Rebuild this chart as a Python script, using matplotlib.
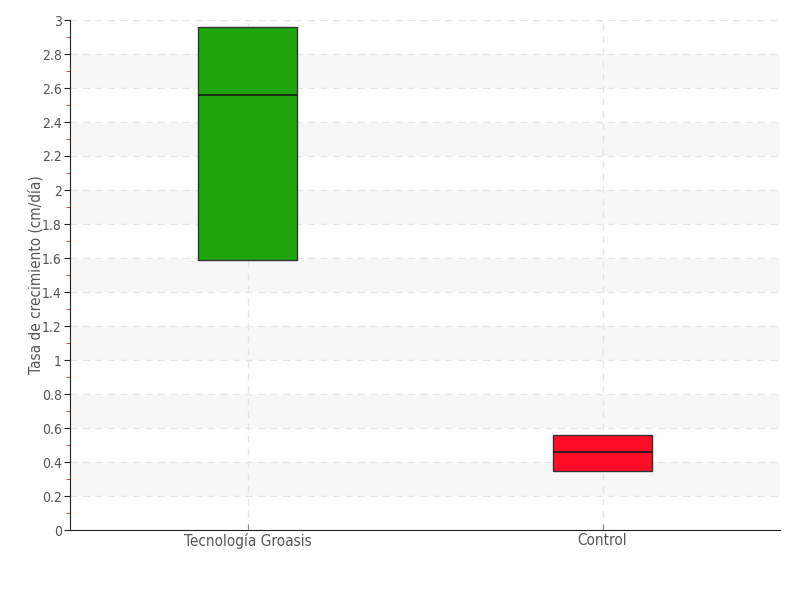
import numpy as np
import matplotlib.pyplot as plt

# data
categories = ["Tecnología Groasis", "Control"]
q1 = [1.59, 0.35]
median = [2.56, 0.46]
q3 = [2.96, 0.56]
colors = ["#21a50f", "#ff0d27"]
yticks = [0, 0.2, 0.4, 0.6, 0.8, 1, 1.2, 1.4, 1.6, 1.8, 2, 2.2, 2.4, 2.6, 2.8, 3]

plt.rcParams['font.family'] = ['DejaVu Sans']
plt.rcParams['font.stretch'] = 'condensed'

fig = plt.figure(figsize=(8, 6), dpi=100)
ax = fig.add_axes([70/800, 70/600, 710/800, 510/600])

pos = np.arange(len(categories)) + 0.5

# alternating bands
for lo in yticks[1:-1:2]:
    ax.axhspan(lo, lo + 0.2, color='#f7f7f7', zorder=0, lw=0)

ax.grid(True, which='major', axis='both', color='#e6e6e6', linestyle=(0, (5, 4)), lw=1, zorder=1)

heights = [b - a for a, b in zip(q1, q3)]
ax.bar(pos, heights, bottom=q1, width=0.28, color=colors, edgecolor='#333333', lw=1, zorder=3)
ax.hlines(median, pos - 0.14, pos + 0.14, colors='#1a1a1a', lw=1.2, zorder=4)

ax.set_xlim(0, 2)
ax.set_ylim(0, 3)
ax.set_xticks(pos)
ax.set_xticklabels(categories)
ax.set_yticks(yticks)
ax.set_yticklabels(['%g' % v for v in yticks])
ax.set_yticks(np.arange(0.1, 3.0, 0.2), minor=True)

for s in ['top', 'right']:
    ax.spines[s].set_visible(False)
ax.spines['left'].set_color('#222222')
ax.spines['bottom'].set_color('#222222')

ax.tick_params(axis='y', which='major', length=4, color='#222222', labelcolor='#555555', labelsize=10, pad=2)
ax.tick_params(axis='y', which='minor', length=3, color='#dd2222')
ax.tick_params(axis='x', length=4, color='#888888', labelcolor='#555555', labelsize=11, pad=2, direction='in')

ax.set_ylabel('Tasa de crecimiento (cm/día)', color='#555555', fontsize=11)
ax.yaxis.set_label_coords(-0.037, 0.5)

fig.savefig('out.png', dpi=100)
